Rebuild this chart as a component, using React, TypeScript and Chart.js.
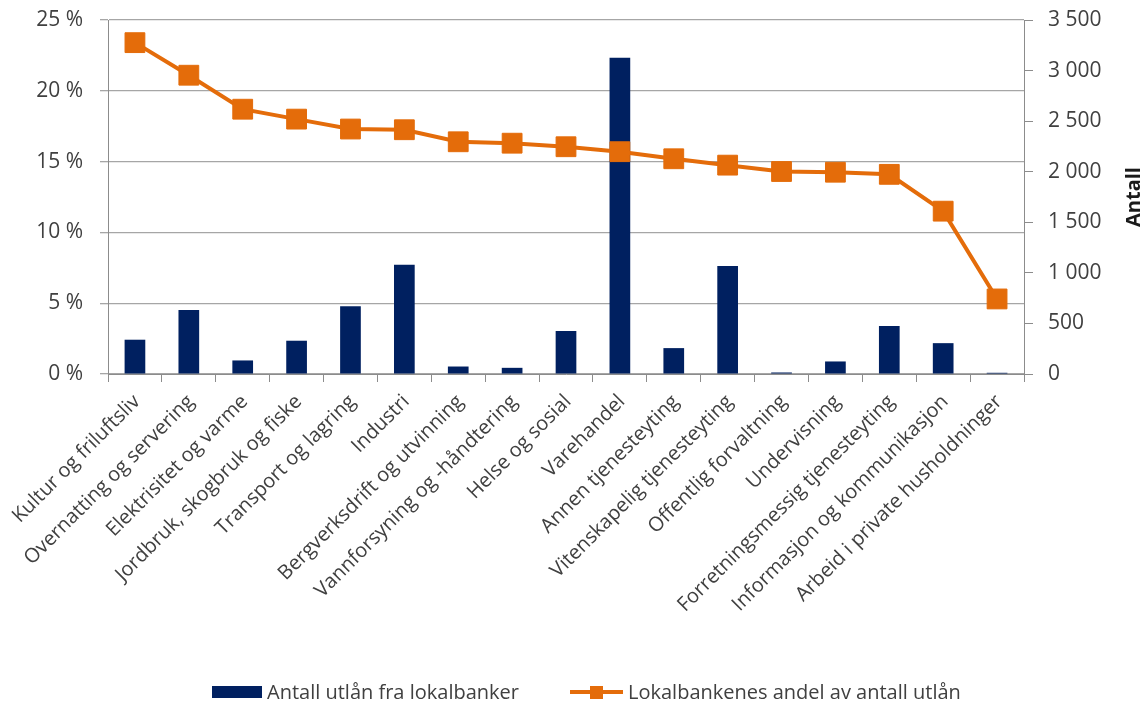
import { useEffect, useRef } from "react";
import { Chart, registerables } from "chart.js";

Chart.register(...registerables);

const categories = [
  "Kultur og friluftsliv",
  "Overnatting og servering",
  "Elektrisitet og varme",
  "Jordbruk, skogbruk og fiske",
  "Transport og lagring",
  "Industri",
  "Bergverksdrift og utvinning",
  "Vannforsyning og -håndtering",
  "Helse og sosial",
  "Varehandel",
  "Annen tjenesteyting",
  "Vitenskapelig tjenesteyting",
  "Offentlig forvaltning",
  "Undervisning",
  "Forretningsmessig tjenesteyting",
  "Informasjon og kommunikasjon",
  "Arbeid i private husholdninger",
];

// Number of loans from local banks (right axis)
const loanCounts = [339, 633, 134, 329, 669, 1079, 74, 61, 424, 3128, 256, 1069, 15, 124, 474, 305, 12];

// Local banks' share of the number of loans, in percent (left axis)
const localShare = [23.4, 21.1, 18.7, 18.0, 17.3, 17.25, 16.4, 16.3, 16.05, 15.7, 15.2, 14.75, 14.3, 14.25, 14.1, 11.5, 5.3];

const barLabel = "Antall utlån fra lokalbanker";
const lineLabel = "Lokalbankenes andel av antall utlån";
const rightTitle = "Antall";

const NAVY = "#002060";
const ORANGE = "#E46C0A";
const TEXT = "#404040";
const GRID = "#a6a6a6";
const AXIS = "#8c8c8c";
const FONT = "'Open Sans', sans-serif";

const fmtThousands = (v: number) => {
  if (v >= 1000) {
    return `${Math.floor(v / 1000)} ${String(v % 1000).padStart(3, "0")}`;
  }
  return `${v}`;
};

const rightTitlePlugin = {
  id: "rightTitle",
  afterDraw(chart: any) {
    const { ctx, chartArea } = chart;
    ctx.save();
    ctx.translate(1134, (chartArea.top + chartArea.bottom) / 2);
    ctx.rotate(-Math.PI / 2);
    ctx.font = `bold 20px ${FONT}`;
    ctx.fillStyle = "#1a1a1a";
    ctx.textAlign = "center";
    ctx.textBaseline = "middle";
    ctx.fillText(rightTitle, 0, 0);
    ctx.restore();
  },
};

// Keep the plot area fixed: tick-label overhang should not push it around
const noOverhang = (s: any) => {
  s.paddingTop = 0;
  s.paddingBottom = 0;
  s.paddingLeft = 0;
  s.paddingRight = 0;
};

export default function App() {
  const canvasRef = useRef<HTMLCanvasElement | null>(null);

  useEffect(() => {
    if (!canvasRef.current) return;
    const chart = new Chart(canvasRef.current, {
      type: "bar",
      data: {
        labels: categories,
        datasets: [
          {
            type: "line",
            label: lineLabel,
            data: localShare,
            yAxisID: "yShare",
            borderColor: ORANGE,
            backgroundColor: ORANGE,
            borderWidth: 4,
            pointStyle: "rect",
            pointRadius: 14,
            pointBorderWidth: 1,
            pointBackgroundColor: ORANGE,
            pointBorderColor: ORANGE,
            order: 0,
          } as any,
          {
            type: "bar",
            label: barLabel,
            data: loanCounts,
            yAxisID: "yCount",
            backgroundColor: NAVY,
            borderColor: NAVY,
            borderWidth: 0,
            barPercentage: 0.384,
            categoryPercentage: 1,
            order: 1,
          },
        ],
      },
      options: {
        responsive: true,
        maintainAspectRatio: false,
        animation: false,
        layout: { padding: { top: 20, left: 0, right: 0, bottom: 0 } },
        plugins: {
          legend: { display: false },
          tooltip: { enabled: false },
        },
        scales: {
          x: {
            type: "category",
            offset: true,
            grid: {
              offset: true,
              drawOnChartArea: false,
              tickLength: 8,
              color: AXIS,
            },
            border: { color: AXIS },
            ticks: {
              autoSkip: false,
              maxRotation: 45,
              minRotation: 45,
              color: TEXT,
              padding: 8,
              labelOffset: 2,
              font: { family: FONT, size: 20 },
            },
            afterFit: (s: any) => {
              s.height = 330;
              noOverhang(s);
            },
          },
          yShare: {
            type: "linear",
            position: "left",
            min: 0,
            max: 25,
            ticks: {
              stepSize: 5,
              color: TEXT,
              padding: 17,
              font: { family: FONT, size: 21 },
              callback: (v: any) => `${v} %`,
            },
            grid: { color: GRID, tickLength: 8, lineWidth: 1.3 },
            border: { color: AXIS },
            afterFit: (s: any) => {
              s.width = 108;
              noOverhang(s);
            },
          },
          yCount: {
            type: "linear",
            position: "right",
            min: 0,
            max: 3500,
            ticks: {
              stepSize: 500,
              color: TEXT,
              padding: 15,
              font: { family: FONT, size: 21 },
              callback: (v: any) => fmtThousands(Number(v)),
            },
            grid: { drawOnChartArea: false, tickLength: 9, color: AXIS },
            border: { color: AXIS },
            afterFit: (s: any) => {
              s.width = 124;
              noOverhang(s);
            },
          },
        },
      },
      plugins: [rightTitlePlugin],
    });
    return () => chart.destroy();
  }, []);

  const legendText: React.CSSProperties = {
    position: "absolute",
    top: 678,
    height: 28,
    lineHeight: "28px",
    fontFamily: FONT,
    fontSize: 20,
    color: TEXT,
    whiteSpace: "nowrap",
  };

  return (
    <div style={{ position: "fixed", left: 0, top: 0, width: 1148, height: 704, background: "#fff" }}>
      <canvas ref={canvasRef} />
      <div style={{ position: "absolute", left: 212, top: 686, width: 50, height: 12, background: NAVY }} />
      <div style={{ ...legendText, left: 267 }}>{barLabel}</div>
      <div style={{ position: "absolute", left: 570, top: 690, width: 53, height: 4, background: ORANGE }} />
      <div style={{ position: "absolute", left: 590, top: 686, width: 13, height: 13, background: ORANGE }} />
      <div style={{ ...legendText, left: 628 }}>{lineLabel}</div>
    </div>
  );
}
